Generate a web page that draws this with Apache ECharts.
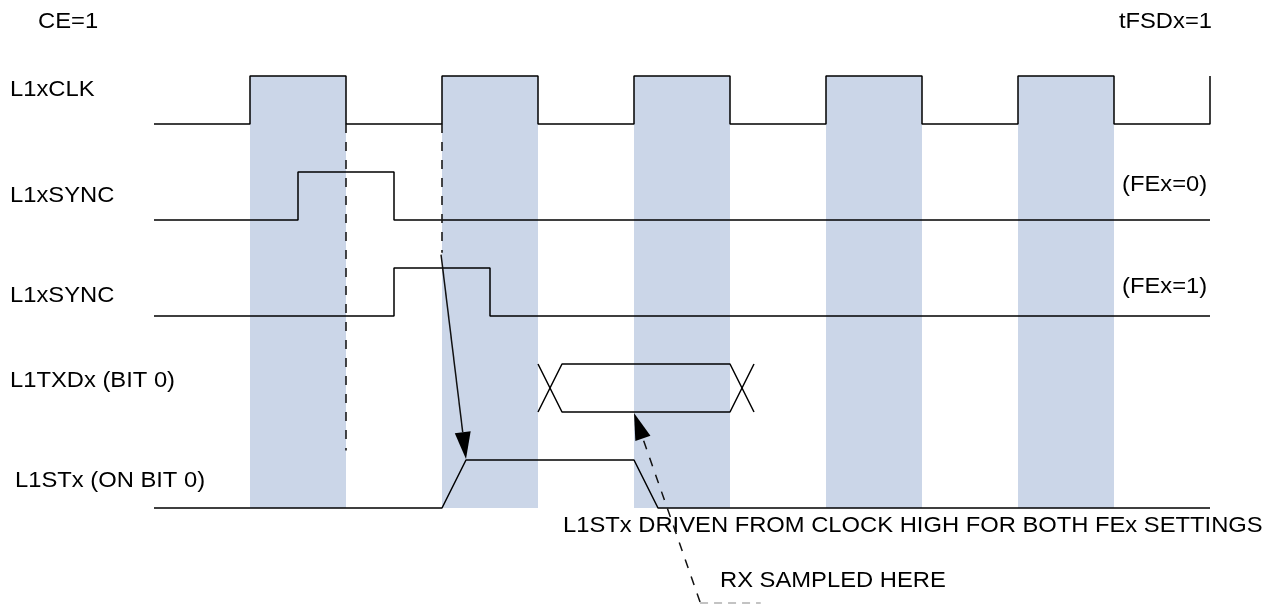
<!DOCTYPE html>
<html>
<head>
<meta charset="utf-8">
<title>L1 frame sync timing</title>
<script src="https://cdn.jsdelivr.net/npm/echarts@6/dist/echarts.min.js"></script>
<style>
    html, body { margin: 0; padding: 0; background: #fff; }
    #timing { width: 1282px; height: 604px; }
</style>
</head>
<body>
<div id="timing"></div>
<script>
// x in clock periods (0 = first rising edge), y in diagram rows (row n = low level of signal n)
var traceStart = -0.5;
var traceEnd = 5;
var clkEdges = [0, 0.5, 1, 1.5, 2, 2.5, 3, 3.5, 4, 4.5, 5];
var syncFe0Edges = [0.25, 0.75];
var syncFe1Edges = [0.75, 1.25];
var txdValid = [[1.5, 1.625], [2.5, 2.625]];
var stxRamps = [[1, 1.125], [2, 2.125]];
var rows = { clk: 1, sync0: 2, sync1: 3, txd: 4, stx: 5 };
var swing = 0.5;

// dashed reference lines: [time, fromRow, toRow]
var clockRefs = [[0.5, 1, 4.4], [1, 1, 2.34]];
// arrows: [fromTime, fromRow, toTime, toRow, dashed]
var arrows = [
    [0.995, 2.36, 1.125, 4.49, 0],
    [2.344, 5.98, 2.0, 4.01, 1]
];
var underline = [[2.344, 5.99], [2.66, 5.99]];

var signalNames = ['L1xCLK', 'L1xSYNC', 'L1xSYNC', 'L1TXDx (BIT 0)', 'L1STx (ON BIT 0)'];
var feNotes = ['(FEx=0)', '(FEx=1)'];
var headers = ['CE=1', 'tFSDx=1'];
var notes = ['L1STx DRIVEN FROM CLOCK HIGH FOR BOTH FEx SETTINGS', 'RX SAMPLED HERE'];

var lineColor = '#000';
var bandColor = '#cbd6e8';
var fontFamily = '"Liberation Sans", Arial, Helvetica, sans-serif';
var fontSize = 22;
var textStretch = 1.08;

function level(row, high) {
    return high ? row - swing : row;
}

// square wave from toggle times, starting low
function stepTrace(edges, row) {
    var pts = [[traceStart, level(row, 0)]];
    var hi = 0;
    edges.forEach(function(e) {
        pts.push([e, level(row, hi)]);
        hi = 1 - hi;
        pts.push([e, level(row, hi)]);
    });
    if (edges[edges.length - 1] < traceEnd) {
        pts.push([traceEnd, level(row, hi)]);
    }
    return pts;
}

// trace with sloped transitions
function rampTrace(ramps, row) {
    var pts = [[traceStart, level(row, 0)]];
    var hi = 0;
    ramps.forEach(function(r) {
        pts.push([r[0], level(row, hi)]);
        hi = 1 - hi;
        pts.push([r[1], level(row, hi)]);
    });
    pts.push([traceEnd, level(row, hi)]);
    return pts;
}

// data eye of L1TXDx, one side of the X shape
function eyeSide(row, startHigh) {
    var hi = startHigh;
    return [
        [txdValid[0][0], level(row, hi)],
        [txdValid[0][1], level(row, 1 - hi)],
        [txdValid[1][0], level(row, 1 - hi)],
        [txdValid[1][1], level(row, hi)]
    ];
}

var bands = [];
for (var i = 0; i + 1 < clkEdges.length; i += 2) {
    bands.push([clkEdges[i], clkEdges[i + 1]]);
}

function traceSeries(data, dashed) {
    return {
        type: 'line',
        data: data,
        symbol: 'none',
        silent: true,
        z: 3,
        lineStyle: {
            color: dashed ? '#1a1a1a' : lineColor,
            width: dashed ? 1.6 : 1.5,
            type: dashed ? [9, 9] : 'solid'
        }
    };
}

var series = [
    {
        type: 'custom',
        silent: true,
        z: 1,
        data: bands,
        encode: { x: [0, 1] },
        renderItem: function(params, api) {
            var p0 = api.coord([api.value(0), rows.clk - swing]);
            var p1 = api.coord([api.value(1), rows.stx]);
            return {
                type: 'rect',
                shape: { x: p0[0], y: p0[1], width: p1[0] - p0[0], height: p1[1] - p0[1] },
                style: { fill: bandColor }
            };
        }
    },
    traceSeries(stepTrace(clkEdges, rows.clk)),
    traceSeries(stepTrace(syncFe0Edges, rows.sync0)),
    traceSeries(stepTrace(syncFe1Edges, rows.sync1)),
    traceSeries(eyeSide(rows.txd, 0)),
    traceSeries(eyeSide(rows.txd, 1)),
    traceSeries(rampTrace(stxRamps, rows.stx))
];

clockRefs.forEach(function(r) {
    series.push(traceSeries([[r[0], r[1]], [r[0], r[2]]], true));
});

series.push({
    type: 'line',
    data: underline,
    symbol: 'none',
    silent: true,
    z: 3,
    lineStyle: { color: '#b0b0b0', width: 1.5, type: [8, 6] }
});

series.push({
    type: 'custom',
    silent: true,
    z: 4,
    data: arrows,
    encode: { x: [0, 2], y: [1, 3] },
    renderItem: function(params, api) {
        var a = api.coord([api.value(0), api.value(1)]);
        var b = api.coord([api.value(2), api.value(3)]);
        var dashed = api.value(4) === 1;
        var dx = b[0] - a[0], dy = b[1] - a[1];
        var len = Math.sqrt(dx * dx + dy * dy);
        var ux = dx / len, uy = dy / len;
        var headLen = 27, headW = 8;
        var bx = b[0] - ux * headLen, by = b[1] - uy * headLen;
        return {
            type: 'group',
            children: [
                {
                    type: 'line',
                    shape: { x1: a[0], y1: a[1], x2: bx, y2: by },
                    style: {
                        stroke: '#111',
                        lineWidth: 1.5,
                        lineDash: dashed ? [9, 9] : null
                    }
                },
                {
                    type: 'polygon',
                    shape: {
                        points: [
                            [b[0], b[1]],
                            [bx - uy * headW, by + ux * headW],
                            [bx + uy * headW, by - ux * headW]
                        ]
                    },
                    style: { fill: '#000' }
                }
            ]
        };
    }
});

function label(text, x, y, align) {
    return {
        type: 'text',
        x: x,
        y: y,
        scaleX: textStretch,
        silent: true,
        style: {
            text: text,
            fill: '#000',
            font: fontSize + 'px ' + fontFamily,
            align: align || 'left',
            verticalAlign: 'middle'
        }
    };
}

var labelY = [90, 196, 296, 381, 481];
var graphics = [
    label(headers[0], 38, 22),
    label(headers[1], 1212, 22, 'right'),
    label(feNotes[0], 1122, 185),
    label(feNotes[1], 1122, 287),
    label(notes[0], 563, 526),
    label(notes[1], 720, 581)
];
signalNames.forEach(function(name, k) {
    graphics.push(label(name, k === 4 ? 15 : 10, labelY[k]));
});

var chart = echarts.init(document.getElementById('timing'), null, { renderer: 'canvas' });
chart.setOption({
    animation: false,
    backgroundColor: '#fff',
    grid: { left: 0, right: 0, top: 0, bottom: 0 },
    xAxis: { type: 'value', min: -250 / 192, max: 1032 / 192, show: false },
    yAxis: { type: 'value', inverse: true, min: -28 / 96, max: 576 / 96, show: false },
    series: series,
    graphic: graphics
});
window.addEventListener('resize', function() {
    chart.resize();
});
</script>
</body>
</html>
